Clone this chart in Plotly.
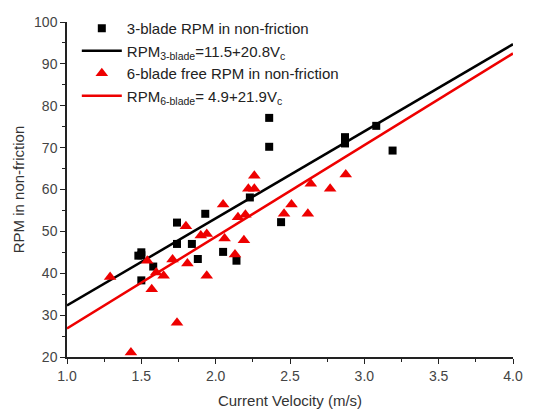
import plotly.graph_objects as go

# 3-blade RPM data
v3 = [1.48, 1.50, 1.50, 1.50, 1.58, 1.74, 1.74, 1.84, 1.88, 1.93, 2.05, 2.14, 2.23,
      2.36, 2.36, 2.44, 2.87, 2.87, 3.08, 3.19]
rpm3 = [44.2, 45.0, 44.3, 38.3, 41.6, 52.1, 47.0, 47.0, 43.4, 54.2, 45.1, 43.0, 58.1,
        77.1, 70.2, 52.2, 72.5, 71.0, 75.2, 69.3]

# 6-blade RPM data
v6 = [1.29, 1.43, 1.54, 1.57, 1.60, 1.65, 1.71, 1.74, 1.80, 1.81, 1.90, 1.94, 1.94,
      2.05, 2.06, 2.13, 2.15, 2.19, 2.20, 2.22, 2.26, 2.26, 2.46, 2.51, 2.62, 2.64,
      2.77, 2.875]
rpm6 = [39.1, 21.1, 43.0, 36.2, 40.2, 39.4, 43.3, 28.2, 51.2, 42.3, 49.0, 49.4, 39.4,
        56.4, 48.3, 44.5, 53.4, 47.9, 54.0, 60.2, 60.2, 63.3, 54.2, 56.4, 54.2, 61.4,
        60.2, 63.6]

# fit coefficients
a3, b3 = 11.5, 20.8
a6, b6 = 4.9, 21.9
xfit = [1.0, 4.0]

fig = go.Figure()
fig.add_trace(go.Scatter(x=v3, y=rpm3, mode="markers", name="3-blade RPM in non-friction",
                         marker=dict(symbol="square", color="black", size=8)))
fig.add_trace(go.Scatter(x=xfit, y=[a3 + b3 * x for x in xfit], mode="lines",
                         name="RPM<sub>3-blade</sub>=11.5+20.8V<sub>c</sub>",
                         line=dict(color="black", width=2.5)))
fig.add_trace(go.Scatter(x=v6, y=rpm6, mode="markers", name="6-blade free RPM in non-friction",
                         marker=dict(symbol="triangle-up", color="#ee0000", size=11)))
fig.add_trace(go.Scatter(x=xfit, y=[a6 + b6 * x for x in xfit], mode="lines",
                         name="RPM<sub>6-blade</sub>= 4.9+21.9V<sub>c</sub>",
                         line=dict(color="#ee0000", width=2.5)))

axis_common = dict(showline=True, linecolor="#222", linewidth=1.5, ticks="outside",
                   ticklen=5, tickwidth=1.2, tickcolor="#222", showgrid=False,
                   zeroline=False, mirror=False, automargin=False,
                   tickfont=dict(family="Liberation Sans, Arial", size=14, color="#444"))

fig.update_layout(
    width=540, height=415,
    margin=dict(l=67, r=27, t=12, b=58),
    paper_bgcolor="white", plot_bgcolor="white",
    font=dict(family="Liberation Sans, Arial", size=14, color="#333"),
    showlegend=True,
    legend=dict(x=0.022, y=1.03, xanchor="left", yanchor="top", bgcolor="rgba(0,0,0,0)",
                font=dict(size=15, color="#222"), tracegroupgap=0, itemwidth=40),
    xaxis=dict(range=[1.0, 4.0], dtick=0.5, tick0=1.0, tickformat=".1f",
               title=dict(text="Current Velocity (m/s)", standoff=13,
                          font=dict(size=15, color="#333")),
               minor=dict(dtick=0.25, ticks="outside", ticklen=3, tickcolor="#222"),
               **axis_common),
    yaxis=dict(range=[20, 100], dtick=10,
               title=dict(text="RPM in non-friction", standoff=6,
                          font=dict(size=15, color="#333")),
               minor=dict(dtick=5, ticks="outside", ticklen=3, tickcolor="#222"),
               **axis_common),
)

fig.write_html("out.html", config={"displayModeBar": False},
               post_script="document.body.style.margin='0';")
